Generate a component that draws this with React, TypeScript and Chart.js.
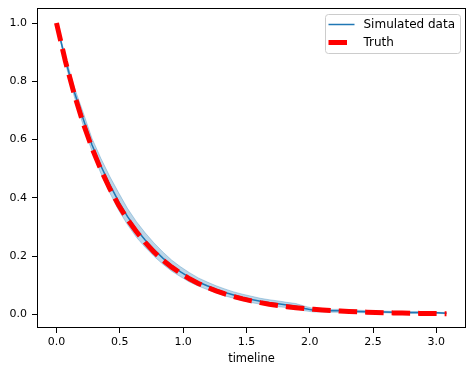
import { useEffect, useRef } from "react";
import { Chart, registerables } from "chart.js";

Chart.register(...registerables);

const timeline = [
  0.0, 0.07, 0.14, 0.21, 0.28, 0.35, 0.42, 0.49, 0.56, 0.63, 0.7, 0.77, 0.84, 0.91, 0.98,
  1.05, 1.12, 1.19, 1.26, 1.33, 1.4, 1.47, 1.54, 1.61, 1.68, 1.75, 1.82, 1.89, 1.96,
  2.03, 2.1, 2.17, 2.24, 2.31, 2.38, 2.45, 2.52, 2.59, 2.66, 2.73, 2.8, 2.87, 2.94, 3.01, 3.08,
];

const simulated = [
  1.0, 0.874, 0.764, 0.672, 0.582, 0.51, 0.446, 0.388, 0.336, 0.292, 0.255, 0.222, 0.193, 0.167, 0.146,
  0.127, 0.111, 0.098, 0.086, 0.075, 0.066, 0.058, 0.051, 0.045, 0.04, 0.036, 0.032, 0.028, 0.02,
  0.014, 0.013, 0.012, 0.012, 0.011, 0.01, 0.009, 0.008, 0.008, 0.007, 0.007, 0.006, 0.006, 0.005, 0.005, 0.004,
];

const simLower = [
  1.0, 0.862, 0.748, 0.65, 0.56, 0.484, 0.418, 0.358, 0.308, 0.265, 0.23, 0.199, 0.172, 0.148, 0.129,
  0.111, 0.097, 0.085, 0.074, 0.063, 0.055, 0.047, 0.04, 0.035, 0.03, 0.026, 0.023, 0.019, 0.012,
  0.008, 0.008, 0.007, 0.007, 0.007, 0.006, 0.005, 0.004, 0.005, 0.004, 0.004, 0.003, 0.003, 0.003, 0.003, 0.002,
];

const simUpper = [
  1.0, 0.886, 0.78, 0.694, 0.604, 0.536, 0.474, 0.418, 0.364, 0.319, 0.28, 0.245, 0.214, 0.186, 0.163,
  0.143, 0.125, 0.111, 0.098, 0.087, 0.077, 0.069, 0.062, 0.055, 0.05, 0.046, 0.041, 0.037, 0.028,
  0.02, 0.018, 0.017, 0.017, 0.015, 0.014, 0.013, 0.012, 0.011, 0.01, 0.01, 0.009, 0.009, 0.007, 0.007, 0.006,
];

const truth = [
  1.0, 0.869, 0.756, 0.657, 0.571, 0.497, 0.432, 0.375, 0.326, 0.284, 0.247, 0.214, 0.186, 0.162, 0.141,
  0.122, 0.106, 0.0926, 0.0805, 0.0699, 0.0608, 0.0529, 0.046, 0.04, 0.0347, 0.0302, 0.0263, 0.0228, 0.0198,
  0.0172, 0.015, 0.013, 0.0113, 0.0099, 0.0086, 0.0074, 0.0065, 0.0056, 0.0049, 0.0043, 0.0037, 0.0032, 0.0028, 0.0024, 0.0021,
];

const xTicks = [0, 0.5, 1.0, 1.5, 2.0, 2.5, 3.0];
const yTicks = [0, 0.2, 0.4, 0.6, 0.8, 1.0];

const seriesLabels = ["Simulated data", "Truth"];
const xTitle = "timeline";

const FONT = "'DejaVu Sans', sans-serif";
const BLUE = "#1f77b4";
const BAND = "rgba(31,119,180,0.3)";

const pts = (ys: number[]) => timeline.map((x, i) => ({ x, y: ys[i] }));

const framePlugin = {
  id: "frame",
  afterDraw(chart: any) {
    const { ctx, chartArea } = chart;
    const { left, right, top, bottom } = chartArea;
    ctx.save();
    ctx.strokeStyle = "#000";
    ctx.lineWidth = 1;
    ctx.strokeRect(Math.round(left) + 0.5, Math.round(top) + 0.5, Math.round(right - left) - 1, Math.round(bottom - top) - 1);

    // legend
    const w = 135;
    const h = 39;
    const lx = Math.round(right) - 6 - w + 0.5;
    const ly = Math.round(top) + 6 + 0.5;
    ctx.beginPath();
    if ((ctx as any).roundRect) (ctx as any).roundRect(lx, ly, w, h, 3);
    else ctx.rect(lx, ly, w, h);
    ctx.fillStyle = "rgba(255,255,255,0.8)";
    ctx.fill();
    ctx.strokeStyle = "#cccccc";
    ctx.lineWidth = 1;
    ctx.stroke();

    const sx0 = lx + 3;
    const sx1 = lx + 29;
    const r1 = ly + 10;
    const r2 = ly + 28;
    ctx.beginPath();
    ctx.strokeStyle = BLUE;
    ctx.lineWidth = 1.5;
    ctx.moveTo(sx0, r1);
    ctx.lineTo(sx1, r1);
    ctx.stroke();

    ctx.beginPath();
    ctx.strokeStyle = "red";
    ctx.lineWidth = 5;
    ctx.setLineDash([18.5, 8]);
    ctx.moveTo(sx0, r2);
    ctx.lineTo(sx1, r2);
    ctx.stroke();
    ctx.setLineDash([]);

    ctx.fillStyle = "#000";
    ctx.font = `12px ${FONT}`;
    ctx.textBaseline = "middle";
    ctx.textAlign = "left";
    ctx.fillText(seriesLabels[0], lx + 38, r1);
    ctx.fillText(seriesLabels[1], lx + 38, r2);
    ctx.restore();
  },
};

export default function App() {
  const ref = useRef<HTMLCanvasElement | null>(null);

  useEffect(() => {
    document.body.style.margin = "0";
    const canvas = ref.current;
    if (!canvas) return;
    const tickFont = { family: FONT, size: 11 };
    const chart = new Chart(canvas, {
      type: "line",
      data: {
        datasets: [
          {
            label: "lower",
            data: pts(simLower),
            borderColor: BAND,
            borderWidth: 1,
            pointRadius: 0,
            fill: false,
            tension: 0,
            order: 3,
          },
          {
            label: "upper",
            data: pts(simUpper),
            borderColor: BAND,
            backgroundColor: BAND,
            borderWidth: 1,
            pointRadius: 0,
            fill: "-1",
            tension: 0,
            order: 2,
          },
          {
            label: seriesLabels[0],
            data: pts(simulated),
            borderColor: BLUE,
            borderWidth: 1.5,
            pointRadius: 0,
            fill: false,
            tension: 0,
            order: 1,
          },
          {
            label: seriesLabels[1],
            data: pts(truth),
            borderColor: "red",
            borderWidth: 5,
            borderDash: [18.5, 8],
            borderCapStyle: "butt",
            pointRadius: 0,
            fill: false,
            tension: 0,
            order: 0,
          },
        ],
      },
      options: {
        animation: false,
        responsive: false,
        devicePixelRatio: 1,
        layout: { padding: { top: 8, right: 8, left: 0, bottom: 0 } },
        plugins: {
          legend: { display: false },
          tooltip: { enabled: false },
        },
        scales: {
          x: {
            type: "linear",
            min: -0.154,
            max: 3.234,
            afterBuildTicks: (s: any) => {
              s.ticks = xTicks.map((v) => ({ value: v }));
            },
            afterFit: (s: any) => {
              s.height = 46;
              s.paddingLeft = 0;
              s.paddingRight = 0;
            },
            ticks: {
              callback: (v: any) => Number(v).toFixed(1),
              font: tickFont,
              color: "#000",
              padding: 3,
              maxRotation: 0,
              autoSkip: false,
            },
            grid: {
              display: true,
              drawOnChartArea: false,
              drawTicks: true,
              tickLength: 5,
              tickColor: "#000",
              tickWidth: 1,
            },
            border: { display: false },
            title: {
              display: true,
              text: xTitle,
              color: "#000",
              font: { family: FONT, size: 11.5 },
              padding: { top: 0, bottom: 8 },
            },
          },
          y: {
            type: "linear",
            min: -0.047,
            max: 1.0515,
            afterBuildTicks: (s: any) => {
              s.ticks = yTicks.map((v) => ({ value: v }));
            },
            afterFit: (s: any) => {
              s.width = 37;
              s.paddingTop = 0;
              s.paddingBottom = 0;
            },
            ticks: {
              callback: (v: any) => Number(v).toFixed(1),
              font: tickFont,
              color: "#000",
              padding: 5,
              autoSkip: false,
            },
            grid: {
              display: true,
              drawOnChartArea: false,
              drawTicks: true,
              tickLength: 5,
              tickColor: "#000",
              tickWidth: 1,
            },
            border: { display: false },
          },
        },
      } as any,
      plugins: [framePlugin],
    });
    return () => chart.destroy();
  }, []);

  return <canvas ref={ref} width={474} height={374} style={{ display: "block" }} />;
}
